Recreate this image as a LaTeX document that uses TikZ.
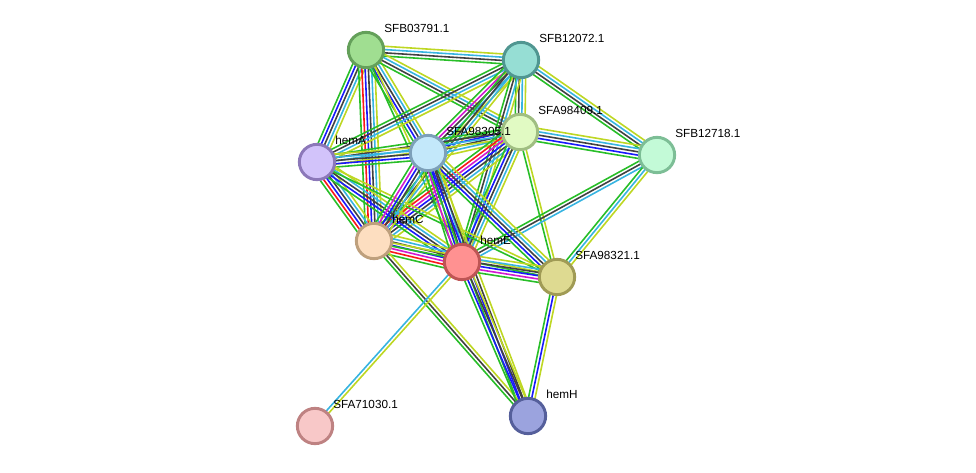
\documentclass[tikz,border=0pt]{standalone}
\usepackage{fontspec}
\setmainfont{Liberation Sans}
\usetikzlibrary{calc,backgrounds}

\definecolor{gn}{RGB}{40,190,40}
\definecolor{rd}{RGB}{250,25,25}
\definecolor{mg}{RGB}{210,25,210}
\definecolor{bl}{RGB}{25,25,250}
\definecolor{bk}{RGB}{65,65,65}
\definecolor{cy}{RGB}{55,180,225}
\definecolor{yl}{RGB}{190,215,35}

% one colored line per evidence channel, side by side
\newcommand{\lnk}[3]{%
  \foreach \c [count=\i] in {#3} {\xdef\nlines{\i}}
  \foreach \c [count=\i] in {#3} {
    \pgfmathsetmacro\off{(\i-(\nlines+1)/2)*2.45}
    \draw[edge, \c] ($(#1)!\off pt!90:(#2)$) -- ($(#2)!\off pt!-90:(#1)$);
  }
}

\begin{document}
\begin{tikzpicture}[x=0.75pt, y=-0.75pt,
        prot/.style={draw, circle, line width=2.2pt, minimum size=26.5pt, inner sep=0pt},
        lbl/.style={anchor=west, inner sep=0pt, font=\fontsize{8.8}{10}\selectfont},
        edge/.style={line width=1.2pt}
        ]
        \useasboundingbox (0,0) rectangle (976,472);

        \node[prot, fill={rgb,255:red,160;green,222;blue,145}, draw={rgb,255:red,100;green,160;blue,90}] (sfb03791) at (366,50) {};
        \node[prot, fill={rgb,255:red,150;green,222;blue,212}, draw={rgb,255:red,80;green,150;blue,145}] (sfb12072) at (521,60) {};
        \node[prot, fill={rgb,255:red,225;green,250;blue,195}, draw={rgb,255:red,160;green,190;blue,130}] (sfa98409) at (520,132) {};
        \node[prot, fill={rgb,255:red,195;green,250;blue,215}, draw={rgb,255:red,125;green,190;blue,150}] (sfb12718) at (657,155) {};
        \node[prot, fill={rgb,255:red,210;green,195;blue,250}, draw={rgb,255:red,140;green,120;blue,185}] (hemA) at (317,162) {};
        \node[prot, fill={rgb,255:red,195;green,232;blue,250}, draw={rgb,255:red,125;green,160;blue,185}] (sfa98305) at (428,153) {};
        \node[prot, fill={rgb,255:red,253;green,222;blue,192}, draw={rgb,255:red,190;green,160;blue,125}] (hemC) at (374,241) {};
        \node[prot, fill={rgb,255:red,255;green,145;blue,145}, draw={rgb,255:red,190;green,85;blue,85}] (hemE) at (462,262) {};
        \node[prot, fill={rgb,255:red,222;green,218;blue,145}, draw={rgb,255:red,160;green,155;blue,85}] (sfa98321) at (557,277) {};
        \node[prot, fill={rgb,255:red,248;green,200;blue,200}, draw={rgb,255:red,190;green,130;blue,130}] (sfa71030) at (315,426) {};
        \node[prot, fill={rgb,255:red,155;green,163;blue,222}, draw={rgb,255:red,85;green,95;blue,155}] (hemH) at (528,416) {};

        \node[lbl] (t03791) at ($(sfb03791)+(18,-22)$) {SFB03791.1};
        \node[lbl] (t12072) at ($(sfb12072)+(18,-22)$) {SFB12072.1};
        \node[lbl] (t98409) at ($(sfa98409)+(18,-22)$) {SFA98409.1};
        \node[lbl] (t12718) at ($(sfb12718)+(18,-22)$) {SFB12718.1};
        \node[lbl] (themA) at ($(hemA)+(18,-22)$) {hemA};
        \node[lbl] (t98305) at ($(sfa98305)+(18,-22)$) {SFA98305.1};
        \node[lbl] (themC) at ($(hemC)+(18,-22)$) {hemC};
        \node[lbl] (themE) at ($(hemE)+(18,-22)$) {hemE};
        \node[lbl] (t98321) at ($(sfa98321)+(18,-22)$) {SFA98321.1};
        \node[lbl] (t71030) at ($(sfa71030)+(18,-22)$) {SFA71030.1};
        \node[lbl] (themH) at ($(hemH)+(18,-22)$) {hemH};

        \begin{scope}[on background layer]
        \lnk{sfb03791}{sfb12072}{gn,bk,cy,yl}
        \lnk{sfb03791}{hemA}{gn,bl,bk,cy,yl}
        \lnk{sfb03791}{hemC}{gn,rd,bl,bk,cy,yl}
        \lnk{sfb03791}{sfa98305}{gn,bl,bk,cy,yl}
        \lnk{sfb03791}{sfa98409}{gn,bk,cy,yl}
        \lnk{sfb03791}{hemE}{gn,yl}
        \lnk{sfb12072}{hemA}{gn,bk,cy,yl}
        \lnk{sfb12072}{sfa98305}{gn,mg,bk,cy,yl}
        \lnk{sfb12072}{sfa98409}{gn,bk,cy,yl}
        \lnk{sfb12072}{sfb12718}{gn,bk,cy,yl}
        \lnk{sfb12072}{hemC}{gn,bk,cy,yl}
        \lnk{sfb12072}{hemE}{gn,bk,cy,yl}
        \lnk{sfa98409}{sfb12718}{gn,bl,bk,cy,yl}
        \lnk{sfa98409}{sfa98305}{gn,bl,bk,cy,yl}
        \lnk{sfa98409}{hemA}{gn,bk,cy,yl}
        \lnk{sfa98409}{hemC}{gn,rd,mg,bl,bk,cy,yl}
        \lnk{sfa98409}{hemE}{gn,bl,bk,cy,yl}
        \lnk{sfa98409}{sfa98321}{gn,yl}
        \lnk{sfb12718}{hemE}{gn,bk,cy}
        \lnk{sfb12718}{sfa98321}{gn,cy,yl}
        \lnk{hemA}{sfa98305}{gn,bl,bk,cy,yl}
        \lnk{hemA}{hemC}{gn,rd,bl,bk,cy,yl}
        \lnk{hemA}{hemE}{gn,bl,bk,cy,yl}
        \lnk{hemA}{sfa98321}{gn,yl}
        \lnk{sfa98305}{hemC}{gn,mg,bl,bk,cy,yl}
        \lnk{sfa98305}{hemE}{gn,mg,bl,bk,cy,yl}
        \lnk{sfa98305}{sfa98321}{gn,bl,bk,cy,yl}
        \lnk{sfa98305}{hemH}{gn,bl,bk,yl}
        \lnk{hemC}{hemE}{gn,rd,mg,bl,bk,cy,yl}
        \lnk{hemC}{sfa98321}{gn,yl}
        \lnk{hemC}{hemH}{gn,bk,yl}
        \lnk{hemE}{sfa98321}{gn,mg,bl,bk,cy,yl}
        \lnk{hemE}{hemH}{gn,bl,bk,yl}
        \lnk{hemE}{sfa71030}{cy,yl}
        \lnk{sfa98321}{hemH}{gn,bl,yl}
        \end{scope}
\end{tikzpicture}
\end{document}
